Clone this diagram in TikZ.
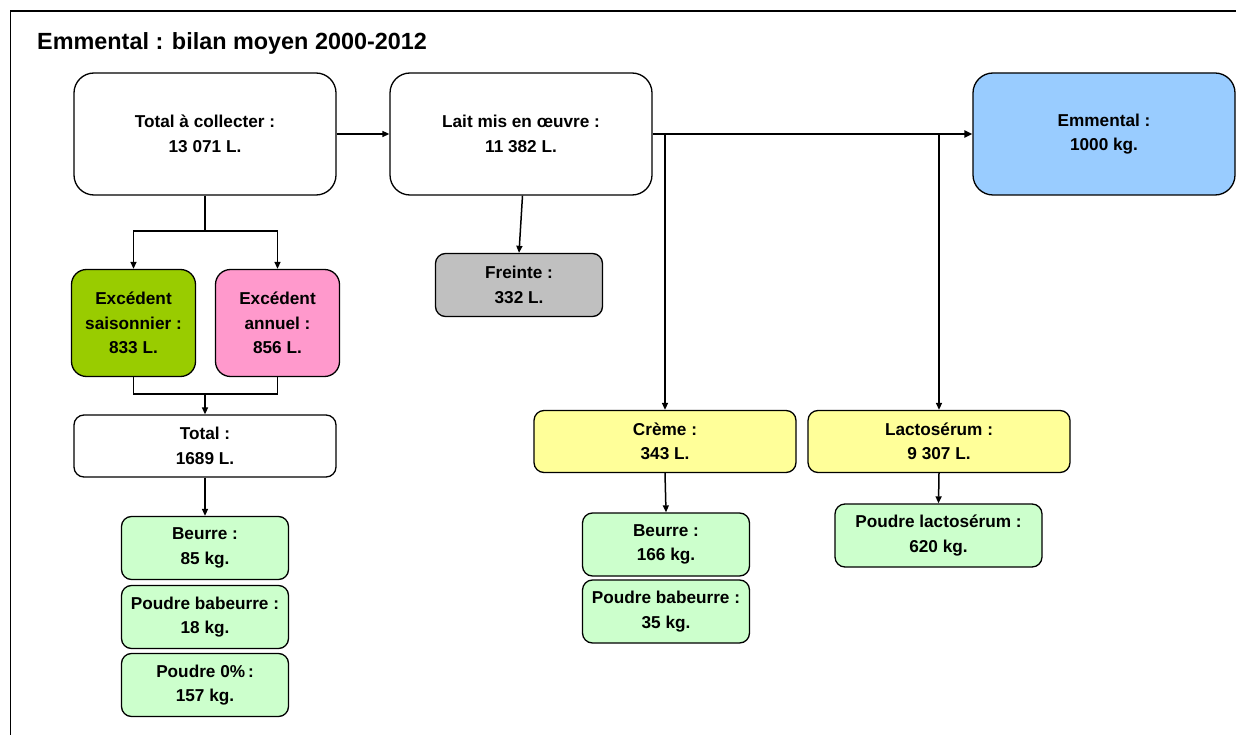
\documentclass[tikz,border=0pt]{standalone}
\usepackage{fontspec}
\setmainfont{Liberation Sans}
\usetikzlibrary{arrows.meta}
\definecolor{cGreen}{HTML}{99CC00}
\definecolor{cPink}{HTML}{FF99CC}
\definecolor{cBlue}{HTML}{99CCFF}
\definecolor{cGrey}{HTML}{C0C0C0}
\definecolor{cYellow}{HTML}{FFFF99}
\definecolor{cLgreen}{HTML}{CCFFCC}
\begin{document}
\begin{tikzpicture}[x=1pt,y=-1pt,
  box/.style={draw=black, line width=1.3pt, align=center, inner sep=0pt,
    font=\bfseries\fontsize{17.2}{24.5}\selectfont, text=black},
  bigbox/.style={box, rounded corners=20pt, minimum width=262pt, minimum height=122pt},
  excbox/.style={box, rounded corners=15pt, minimum width=124pt, minimum height=107pt},
  midbox/.style={box, rounded corners=10pt, minimum width=262pt, minimum height=62pt},
  smallbox/.style={box, fill=cLgreen, rounded corners=10pt, minimum width=167pt, minimum height=63pt},
  link/.style={line width=1.5pt},
  conn/.style={link, -{Triangle[length=7pt,width=6pt]}},
  mainconn/.style={line width=2.2pt, -{Triangle[length=8pt,width=7pt]}}]
\useasboundingbox (0,0) rectangle (1236,735);
\draw[line width=1.2pt] (10.5,735) -- (10.5,11) -- (1236,11);
\node[anchor=base west, inner sep=0pt, font=\bfseries\fontsize{23.4}{28}\selectfont] (title) at (37,50) {Emmental : bilan moyen 2000-2012};

\node[bigbox] (tac) at (205,134) {Total à collecter :\\13 071 L.};
\node[bigbox] (lait) at (521,134) {Lait mis en œuvre :\\11 382 L.};
\node[bigbox, fill=cBlue] (emm) at (1104,134) {Emmental :\\1000 kg.};
\node[excbox, fill=cGreen] (es) at (133.5,323) {Excédent\\saisonnier :\\833 L.};
\node[excbox, fill=cPink] (ea) at (277.5,323) {Excédent\\annuel :\\856 L.};
\node[midbox] (tot) at (205,446) {Total :\\1689 L.};
\node[midbox, fill=cYellow] (cr) at (665,441.5) {Crème :\\343 L.};
\node[midbox, fill=cYellow] (lac) at (939,441.5) {Lactosérum :\\9 307 L.};
\node[smallbox, fill=cGrey] (fr) at (519,285) {Freinte :\\332 L.};
\node[smallbox] (b1) at (205,548) {Beurre :\\85 kg.};
\node[smallbox] (pb1) at (205,617) {Poudre babeurre :\\18 kg.};
\node[smallbox] (p0) at (205,685) {Poudre 0\%\,:\\157 kg.};
\node[smallbox] (b2) at (666,544.5) {Beurre :\\166 kg.};
\node[smallbox] (pb2) at (666,611.5) {Poudre babeurre :\\35 kg.};
\node[smallbox, minimum width=207pt] (pl) at (938.5,535.5) {Poudre lactosérum :\\620 kg.};

\coordinate (j1) at (665,134);
\coordinate (j2) at (939,134);
\coordinate (t1) at (205,231);
\coordinate (t2) at (205,394);

\draw[conn] (tac.east) -- (lait.west);
\draw[mainconn] (lait.east) -- (emm.west);
\draw[conn] (j1) -- (cr.north);
\draw[conn] (j2) -- (lac.north);
\draw[conn] ([xshift=1.5pt]lait.south) -- (fr.north);
\draw[link] (tac.south) -- (t1);
\draw[conn] (t1) -| (es.north);
\draw[conn] (t1) -| (ea.north);
\draw[link] (es.south) |- (t2) -| (ea.south);
\draw[conn] (t2) -- (tot.north);
\draw[conn] (tot.south) -- (b1.north);
\draw[conn] (cr.south) -- (b2.north);
\draw[conn] (lac.south) -- (pl.north);
\end{tikzpicture}
\end{document}
